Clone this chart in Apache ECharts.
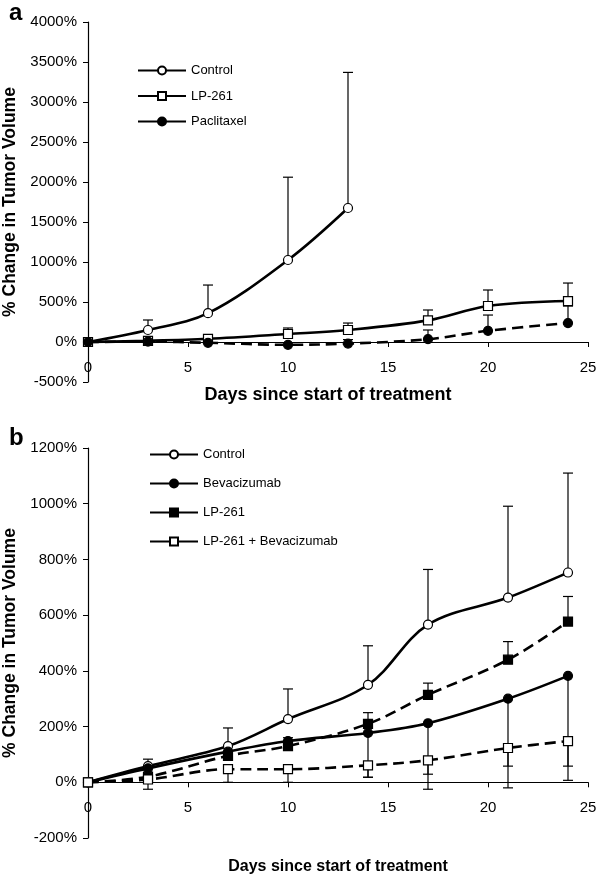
<!DOCTYPE html>
<html>
<head>
<meta charset="utf-8">
<script src="https://cdn.jsdelivr.net/npm/echarts@6/dist/echarts.min.js"></script>
<style>
html,body{margin:0;padding:0;background:#fff;}
#main{width:600px;height:875px;}
</style>
</head>
<body>
<div id="main"></div>
<script>
// panel a
var daysA = [0, 3, 6, 10, 13, 17, 20, 24];
var ctrlA = [0, 150, 360, 1025, 1675];
var ctrlAErr = [null, 275, 712, 2060, 3370];
var lpA = [0, 15, 40, 100, 150, 270, 450, 512];
var lpAErr = [null, null, null, 175, 237, 400, 650, 737];
var pacA = [0, 5, -10, -35, -20, 35, 140, 237];
var pacAErr = [null, null, null, null, 30, 150, 337, 450];

// panel b
var daysB = [0, 3, 7, 10, 14, 17, 21, 24];
var ctrlB = [0, 58, 130, 227, 350, 566, 663, 753];
var ctrlBErr = [null, 83, 195, 335, 490, 764, 991, 1110];
var bevB = [0, 50, 110, 148, 177, 212, 300, 382];
var bevBErr = [null, null, null, null, 18, -25, -20, 7];
var lpB = [0, 20, 95, 130, 210, 314, 440, 577];
var lpBErr = [null, null, null, 160, 250, 356, 505, 667];
var comboB = [0, 10, 47, 47, 61, 79, 123, 148];
var comboBErr = [null, -25, 0, 0, 18, 29, 58, 58];

var fontFam = '"Liberation Sans", Arial, sans-serif';

function pts(days, vals) {
	return vals.map(function (v, i) { return [days[i], v]; });
}
function errPts(days, vals, ends) {
	var out = [];
	vals.forEach(function (v, i) {
		if (ends[i] != null) out.push([days[i], v, ends[i]]);
	});
	return out;
}
function errRender(params, api) {
	var p1 = api.coord([api.value(0), api.value(1)]);
	var p2 = api.coord([api.value(0), api.value(2)]);
	var st = { stroke: '#000', lineWidth: 1.2 };
	return {
		type: 'group',
		children: [
			{ type: 'line', shape: { x1: p1[0], y1: p1[1], x2: p2[0], y2: p2[1] }, style: st },
			{ type: 'line', shape: { x1: p2[0] - 5, y1: p2[1], x2: p2[0] + 5, y2: p2[1] }, style: st }
		]
	};
}
function errSeries(idx, days, vals, ends) {
	return {
		type: 'custom',
		xAxisIndex: idx,
		yAxisIndex: idx,
		renderItem: errRender,
		data: errPts(days, vals, ends),
		z: 1,
		silent: true
	};
}
function lineSeries(name, idx, days, vals, symbol, fill, dashed) {
	return {
		name: name,
		type: 'line',
		xAxisIndex: idx,
		yAxisIndex: idx,
		data: pts(days, vals),
		smooth: 0.35,
		symbol: symbol,
		symbolSize: 9,
		showAllSymbol: true,
		lineStyle: { color: '#000', width: 2.6, type: dashed ? [11, 6] : 'solid' },
		itemStyle: { color: fill, borderColor: '#000', borderWidth: 1.2 },
		z: 3
	};
}

var axisTxt = { color: '#000', fontSize: 15, fontFamily: fontFam };
// x axis sits on the 0% line: moved up from the grid bottom with a negative offset
function xAx(idx, off, gap, nameSize, padR) {
	return {
		type: 'value', gridIndex: idx, min: 0, max: 25, interval: 5,
		position: 'bottom', offset: off,
		axisLine: { onZero: false, lineStyle: { color: '#000', width: 1.2 } },
		axisTick: { show: true, length: 5, lineStyle: { color: '#000' } },
		axisLabel: Object.assign({ margin: 18 }, axisTxt),
		splitLine: { show: false },
		name: 'Days since start of treatment',
		nameLocation: 'middle', nameGap: gap,
		nameTextStyle: { color: '#000', fontSize: nameSize, fontWeight: 'bold', fontFamily: fontFam, padding: [0, padR, 0, 0] }
	};
}
function yAx(idx, min, max, step) {
	return {
		type: 'value', gridIndex: idx, min: min, max: max, interval: step,
		axisLine: { show: true, lineStyle: { color: '#000', width: 1.2 } },
		axisTick: { show: true, length: 5, lineStyle: { color: '#000' } },
		axisLabel: Object.assign({ margin: 11, formatter: function (v) { return v + '%'; } }, axisTxt),
		splitLine: { show: false },
		name: '% Change in Tumor Volume',
		nameLocation: 'middle', nameRotate: 90, nameGap: 66,
		nameTextStyle: { color: '#000', fontSize: 17.5, fontWeight: 'bold', fontFamily: fontFam }
	};
}
var solidLeg = { type: 'solid' };
var legTxt = { fontSize: 13, fontFamily: fontFam, color: '#000' };

var option = {
	backgroundColor: '#fff',
	animation: false,
	title: [
		{ text: 'a', left: 4, top: -4, textStyle: { fontSize: 24, fontWeight: 'bold', fontFamily: fontFam, color: '#000' } },
		{ text: 'b', left: 4, top: 421, textStyle: { fontSize: 24, fontWeight: 'bold', fontFamily: fontFam, color: '#000' } }
	],
	grid: [
		{ left: 88, top: 22, width: 500, height: 360, containLabel: false, outerBoundsMode: 'none' },
		{ left: 88, top: 448, width: 500, height: 390, containLabel: false, outerBoundsMode: 'none' }
	],
	xAxis: [xAx(0, -40, 44, 18, 20), xAx(1, -55.7, 76, 16, 0)],
	yAxis: [yAx(0, -500, 4000, 500), yAx(1, -200, 1200, 200)],
	legend: [
		{
			orient: 'vertical', left: 132, top: 59, itemWidth: 48, itemHeight: 10, itemGap: 12.5,
			textStyle: legTxt,
			data: [
				{ name: 'Control', lineStyle: solidLeg },
				{ name: 'LP-261', lineStyle: solidLeg },
				{ name: 'Paclitaxel', lineStyle: solidLeg }
			]
		},
		{
			orient: 'vertical', left: 144, top: 443, itemWidth: 48, itemHeight: 10, itemGap: 16,
			textStyle: legTxt,
			data: [
				{ name: 'Control ', lineStyle: solidLeg },
				{ name: 'Bevacizumab', lineStyle: solidLeg },
				{ name: 'LP-261 ', lineStyle: solidLeg },
				{ name: 'LP-261 + Bevacizumab', lineStyle: solidLeg }
			]
		}
	],
	series: [
		errSeries(0, daysA, ctrlA, ctrlAErr),
		errSeries(0, daysA, lpA, lpAErr),
		errSeries(0, daysA, pacA, pacAErr),
		lineSeries('Control', 0, daysA, ctrlA, 'circle', '#fff', false),
		lineSeries('LP-261', 0, daysA, lpA, 'rect', '#fff', false),
		lineSeries('Paclitaxel', 0, daysA, pacA, 'circle', '#000', true),

		errSeries(1, daysB, ctrlB, ctrlBErr),
		errSeries(1, daysB, bevB, bevBErr),
		errSeries(1, daysB, lpB, lpBErr),
		errSeries(1, daysB, comboB, comboBErr),
		lineSeries('Control ', 1, daysB, ctrlB, 'circle', '#fff', false),
		lineSeries('Bevacizumab', 1, daysB, bevB, 'circle', '#000', false),
		lineSeries('LP-261 ', 1, daysB, lpB, 'rect', '#000', true),
		lineSeries('LP-261 + Bevacizumab', 1, daysB, comboB, 'rect', '#fff', true)
	]
};

var chart = echarts.init(document.getElementById('main'));
chart.setOption(option);
</script>
</body>
</html>
